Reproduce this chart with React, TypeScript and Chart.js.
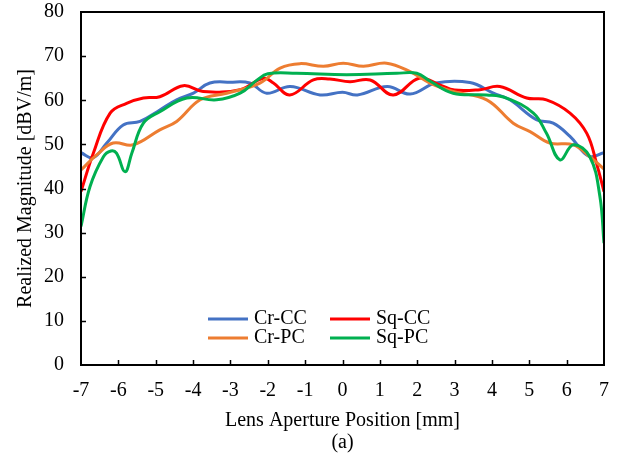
import React, { useEffect, useRef } from "react";
import { Chart, registerables } from "chart.js";

Chart.register(...registerables);

// Data
const crCcX = [-7, -6.67, -6.31, -5.87, -5.42, -4.89, -4.44, -3.99, -3.55, -3.01, -2.48, -2.03, -1.4, -0.6, 0, 0.4, 1.2, 1.81, 2.5, 3.41, 4.04, 4.48, 5.19, 5.64, 6.09, 6.6, 7];
const crCcY = [48.1, 47.0, 50.3, 54.4, 55.2, 57.8, 60.1, 61.6, 63.9, 64.1, 63.9, 61.6, 63.1, 61.2, 61.8, 61.2, 63.1, 61.4, 63.9, 64.0, 61.6, 60.1, 55.6, 54.8, 51.8, 47.3, 48.1];

const sqCcX = [-7, -6.67, -6.22, -5.78, -5.33, -4.89, -4.26, -3.73, -2.74, -2.12, -1.85, -1.41, -0.78, -0.34, 0.2, 0.74, 1.36, 2.05, 2.6, 3.0, 3.68, 4.21, 4.93, 5.46, 6.09, 6.54, 6.8, 7];
const sqCcY = [39.3, 48.0, 57.1, 59.3, 60.5, 60.8, 63.3, 62.0, 62.4, 65.0, 63.9, 61.2, 64.6, 64.8, 64.2, 64.6, 61.2, 65.0, 63.5, 62.3, 62.4, 63.1, 60.5, 60.1, 57.1, 52.5, 45.7, 39.3];

const crPcX = [-7, -6.58, -6.14, -5.6, -4.89, -4.44, -3.81, -3.1, -2.21, -1.67, -1.14, -0.51, 0.02, 0.56, 1.18, 1.81, 2.34, 2.96, 3.86, 4.57, 5.02, 5.55, 6.18, 6.62, 7];
const crPcY = [44.2, 47.6, 50.3, 49.9, 53.3, 55.2, 60.1, 61.6, 63.9, 67.3, 68.3, 67.7, 68.4, 67.7, 68.4, 66.5, 63.9, 62.0, 60.1, 54.8, 52.9, 50.3, 49.9, 47.2, 44.4];

const sqPcX = [-7, -6.76, -6.4, -6.2, -6.05, -5.82, -5.64, -5.33, -4.89, -4.17, -3.37, -2.74, -2.3, -2.0, -1.23, 0.11, 1.45, 1.99, 2.35, 2.96, 3.86, 4.39, 5.11, 5.46, 5.82, 6.18, 6.62, 6.89, 7];
const sqPcY = [31.4, 40.4, 47.2, 48.5, 48.0, 43.8, 48.0, 54.8, 57.4, 60.5, 60.1, 61.6, 64.5, 66.0, 66.1, 65.8, 66.1, 66.1, 64.3, 61.6, 61.2, 60.5, 57.1, 52.5, 46.5, 49.9, 47.2, 38.2, 27.6];

const seriesNames = ["Cr-CC", "Sq-CC", "Cr-PC", "Sq-PC"];
const seriesColors = ["#4472C4", "#FF0000", "#ED7D31", "#00B050"];
const xTickMin = -7;
const xTickMax = 7;
const yTickMin = 0;
const yTickMax = 80;

const FONT = "'Liberation Serif', 'Times New Roman', serif";

const toPoints = (xs: number[], ys: number[]) => xs.map((x, i) => ({ x, y: ys[i] }));

const framePlugin = {
  id: "frame",
  afterDatasetsDraw(chart: any) {
    const { ctx, chartArea } = chart;
    const { left, right, top, bottom } = chartArea;
    const xs = chart.scales.x;
    const ys = chart.scales.y;
    ctx.save();
    ctx.strokeStyle = "#000";
    ctx.lineWidth = 2;
    ctx.strokeRect(left, top, right - left, bottom - top);
    ctx.lineWidth = 1.5;
    ctx.beginPath();
    for (let v = xTickMin + 1; v < xTickMax; v++) {
      const px = Math.round(xs.getPixelForValue(v)) + 0.5;
      ctx.moveTo(px, bottom);
      ctx.lineTo(px, bottom - 5);
    }
    for (let v = yTickMin + 10; v < yTickMax; v += 10) {
      const py = Math.round(ys.getPixelForValue(v)) + 0.5;
      ctx.moveTo(left, py);
      ctx.lineTo(left + 5, py);
    }
    ctx.stroke();
    ctx.restore();
  },
  afterDraw(chart: any) {
    const { ctx, chartArea } = chart;
    const { left, bottom } = chartArea;
    ctx.save();
    ctx.font = `20px ${FONT}`;
    ctx.textBaseline = "middle";
    ctx.textAlign = "left";
    const colX = [left + 127, left + 249];
    const rowY = [bottom - 46, bottom - 27];
    chart.data.datasets.forEach((ds: any, i: number) => {
      const col = i % 2;
      const row = Math.floor(i / 2);
      const x0 = colX[col];
      const y0 = rowY[row];
      ctx.strokeStyle = ds.borderColor;
      ctx.lineWidth = 3;
      ctx.beginPath();
      ctx.moveTo(x0, y0);
      ctx.lineTo(x0 + 40, y0);
      ctx.stroke();
      ctx.fillStyle = "#000";
      ctx.fillText(ds.label, x0 + 46, y0);
    });
    ctx.restore();
  },
};

export default function App() {
  const ref = useRef<HTMLCanvasElement | null>(null);
  useEffect(() => {
    if (!ref.current) return;
    const xsArr = [crCcX, sqCcX, crPcX, sqPcX];
    const ysArr = [crCcY, sqCcY, crPcY, sqPcY];
    const chart = new Chart(ref.current, {
      type: "line",
      data: {
        datasets: seriesNames.map((name, i) => ({
          label: name,
          data: toPoints(xsArr[i], ysArr[i]),
          borderColor: seriesColors[i],
          backgroundColor: seriesColors[i],
          borderWidth: 3,
          pointRadius: 0,
          tension: 0.4,
          fill: false,
          order: 3 - i,
        })),
      },
      options: {
        responsive: false,
        animation: false,
        events: [],
        layout: { padding: { top: 12, right: 19, left: 0, bottom: 0 } },
        plugins: {
          legend: { display: false },
          tooltip: { enabled: false },
        },
        scales: {
          x: {
            type: "linear",
            min: xTickMin,
            max: xTickMax,
            grid: { display: false, drawTicks: false },
            border: { display: false },
            ticks: {
              stepSize: 1,
              padding: 14,
              color: "#000",
              font: { family: FONT, size: 20 },
            },
            title: {
              display: true,
              text: ["Lens Aperture Position [mm]", "(a)"],
              color: "#000",
              font: { family: FONT, size: 20, lineHeight: 1.1 },
              padding: { top: 0, bottom: 2 },
            },
            afterFit: (scale: any) => {
              scale.height = 91;
              scale.paddingLeft = 0;
              scale.paddingRight = 0;
            },
          },
          y: {
            type: "linear",
            min: yTickMin,
            max: yTickMax,
            grid: { display: false, drawTicks: false },
            border: { display: false },
            ticks: {
              stepSize: 10,
              padding: 17,
              color: "#000",
              font: { family: FONT, size: 20 },
            },
            title: {
              display: true,
              text: "Realized Magnitude [dBV/m]",
              color: "#000",
              font: { family: FONT, size: 20, lineHeight: 1.2 },
              padding: { top: 14, bottom: 0 },
            },
            afterFit: (scale: any) => {
              scale.width = 81;
              scale.paddingTop = 0;
              scale.paddingBottom = 0;
            },
          },
        },
      },
      plugins: [framePlugin],
    });
    return () => chart.destroy();
  }, []);
  return (
    <div style={{ position: "fixed", left: 0, top: 0, width: 623, height: 456, background: "#fff" }}>
      <canvas ref={ref} width={623} height={456} style={{ display: "block" }} />
    </div>
  );
}
